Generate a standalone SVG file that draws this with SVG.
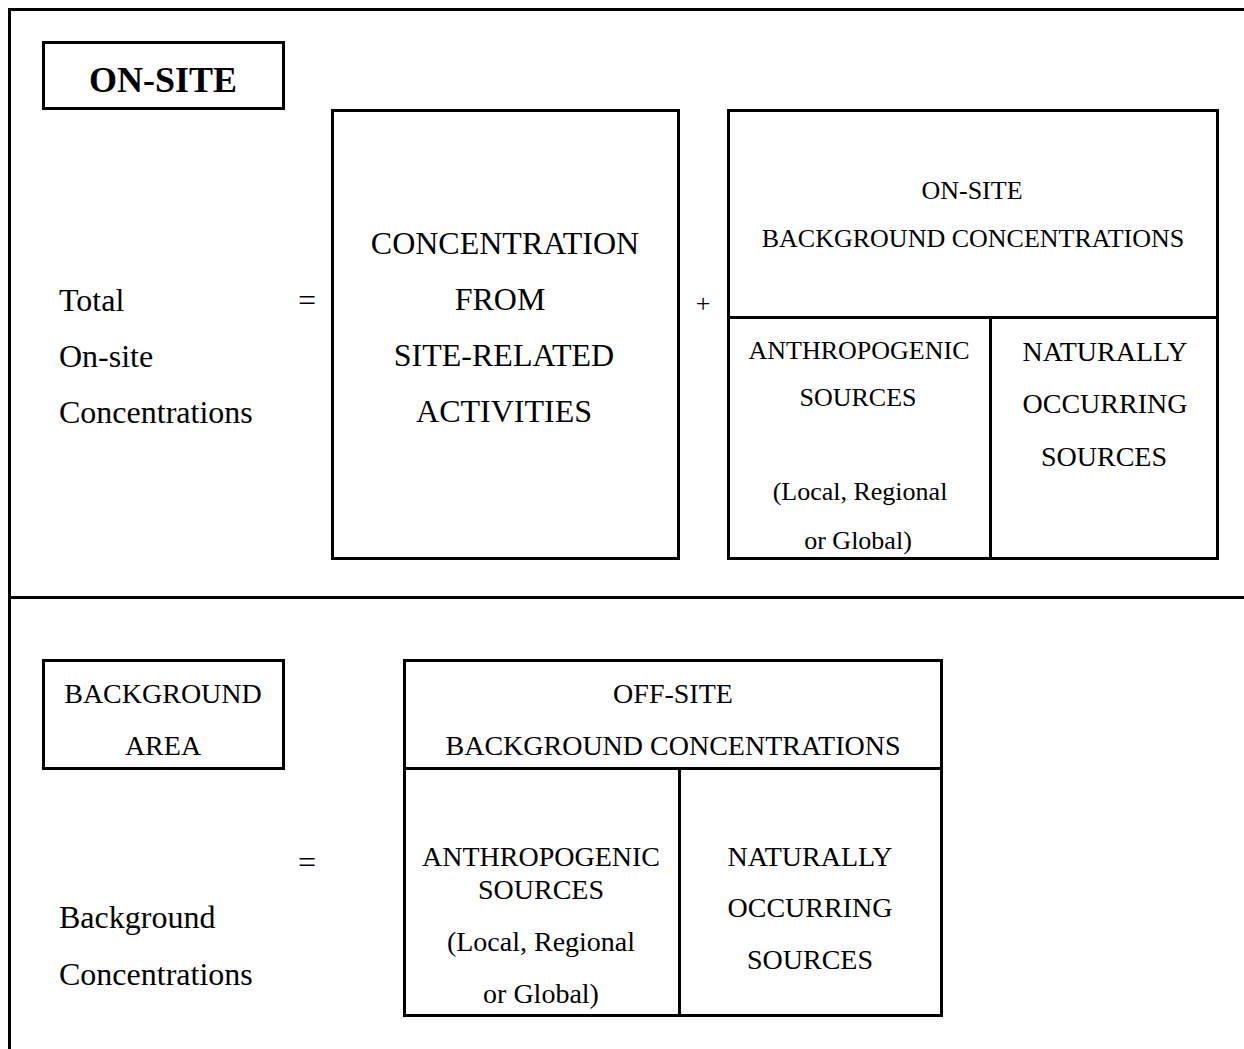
<svg xmlns="http://www.w3.org/2000/svg" width="1244" height="1049" viewBox="0 0 1244 1049">
<style>
.b{fill:none;stroke:#000;stroke-width:3}
text{font-family:"Liberation Serif","Times New Roman",serif;fill:#000;text-anchor:middle}
.s26{font-size:26px}
.s28{font-size:28px}
.s32{font-size:32px}
.l{text-anchor:start}
</style>
<rect width="1244" height="1049" fill="#fff"/>
<g id="frame">
<path class="b" d="M1244 9.5H9.5V1049"/>
<path class="b" d="M9.5 597.5H1244"/>
</g>
<g id="onsite-label">
<rect class="b" x="43.5" y="42.5" width="240" height="66"/>
<text x="163" y="92" style="font-size:36px;font-weight:bold">ON-SITE</text>
</g>
<g id="total-onsite">
<text class="s32 l" x="59" y="311">Total</text>
<text class="s32 l" x="59" y="367">On-site</text>
<text class="s32 l" x="59" y="423">Concentrations</text>
</g>
<g id="eq1"><text class="s32" x="307" y="311">=</text></g>
<g id="site-related">
<rect class="b" x="332.5" y="110.5" width="346" height="448"/>
<text class="s32" x="505" y="254">CONCENTRATION</text>
<text class="s32" x="500" y="310">FROM</text>
<text class="s32" x="504" y="366">SITE-RELATED</text>
<text class="s32" x="504" y="422">ACTIVITIES</text>
</g>
<g id="plus"><text class="s26" x="703" y="312">+</text></g>
<g id="onsite-background">
<rect class="b" x="728.5" y="110.5" width="489" height="448"/>
<path class="b" d="M728.5 317.5H1217.5M990.5 317.5V558.5"/>
<text class="s26" x="972" y="199">ON-SITE</text>
<text class="s26" x="973" y="247">BACKGROUND CONCENTRATIONS</text>
<text class="s26" x="859" y="359">ANTHROPOGENIC</text>
<text class="s26" x="858" y="406">SOURCES</text>
<text class="s26" x="860" y="500">(Local, Regional</text>
<text class="s26" x="858" y="549">or Global)</text>
<text class="s28" x="1105" y="361">NATURALLY</text>
<text class="s28" x="1105" y="413">OCCURRING</text>
<text class="s28" x="1104" y="466">SOURCES</text>
</g>
<g id="background-area-label">
<rect class="b" x="43.5" y="660.5" width="240" height="108"/>
<text class="s28" x="163" y="703">BACKGROUND</text>
<text class="s28" x="163" y="755">AREA</text>
</g>
<g id="eq2"><text class="s32" x="307" y="873">=</text></g>
<g id="background-conc">
<text class="s32 l" x="59" y="928">Background</text>
<text class="s32 l" x="59" y="985">Concentrations</text>
</g>
<g id="offsite-background">
<rect class="b" x="404.5" y="660.5" width="537" height="355"/>
<path class="b" d="M404.5 768.5H941.5M679.5 768.5V1015.5"/>
<text class="s28" x="673" y="703">OFF-SITE</text>
<text class="s28" x="673" y="755">BACKGROUND CONCENTRATIONS</text>
<text class="s28" x="541" y="866">ANTHROPOGENIC</text>
<text class="s28" x="541" y="899">SOURCES</text>
<text class="s28" x="541" y="951">(Local, Regional</text>
<text class="s28" x="541" y="1003">or Global)</text>
<text class="s28" x="810" y="866">NATURALLY</text>
<text class="s28" x="810" y="917">OCCURRING</text>
<text class="s28" x="810" y="969">SOURCES</text>
</g>
<g id="connectors"></g>
</svg>
